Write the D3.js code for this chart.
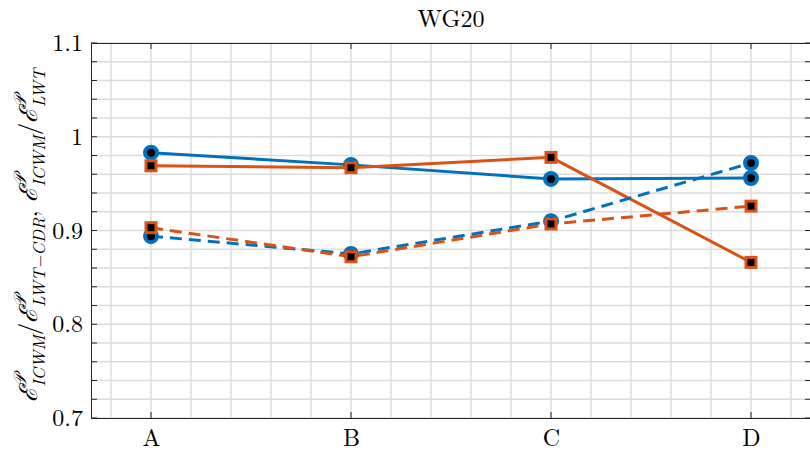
<!DOCTYPE html>
<html>
<head>
<meta charset="utf-8">
<script src="https://cdn.jsdelivr.net/npm/d3@7"></script>
<style>
  body { margin: 0; background: #fff; }
</style>
</head>
<body>
<div id="chart"></div>
<script>
// chart data
const categories = ['A', 'B', 'C', 'D']
const blueSolid = [0.983, 0.970, 0.955, 0.956]
const orangeSolid = [0.969, 0.967, 0.978, 0.866]
const blueDashed = [0.894, 0.875, 0.910, 0.972]
const orangeDashed = [0.903, 0.872, 0.907, 0.926]
const yTicks = [0.7, 0.8, 0.9, 1, 1.1]
const title = 'WG20'

const fontFam = "'Latin Modern Roman'"
const width = 810
const height = 453
const margin = { top: 43, right: -1, bottom: 35, left: 91 }
const w = width - margin.left - margin.right
const h = height - margin.top - margin.bottom

const blue = '#0072BD'
const orange = '#D95319'

const series = [
  { values: blueSolid, color: blue, marker: 'circle', dash: null },
  { values: orangeSolid, color: orange, marker: 'square', dash: null },
  { values: blueDashed, color: blue, marker: 'circle', dash: '12,7' },
  { values: orangeDashed, color: orange, marker: 'square', dash: '12,7' }
]

const svg = d3.select('#chart').append('svg')
  .attr('width', width).attr('height', height)

const g = svg.append('g')
  .attr('transform', 'translate(' + margin.left + ',' + margin.top + ')')

// categories sit at 1..4, with 0.3 of padding on each side
const x = d3.scaleLinear().domain([0.7, 4.3]).range([0, w])
const y = d3.scaleLinear().domain([0.7, 1.1]).range([h, 0])

// grid, major and minor look the same
const xGrid = d3.range(0.8, 4.3, 0.2)
const yGrid = d3.range(0.7, 1.1001, 0.02)
g.append('g').selectAll('line').data(xGrid).enter().append('line')
  .attr('x1', d => x(d)).attr('x2', d => x(d))
  .attr('y1', 0).attr('y2', h)
  .attr('stroke', '#dcdcdc').attr('stroke-width', 1.5)
g.append('g').selectAll('line').data(yGrid).enter().append('line')
  .attr('x1', 0).attr('x2', w)
  .attr('y1', d => y(d)).attr('y2', d => y(d))
  .attr('stroke', '#dcdcdc').attr('stroke-width', 1.5)

// axes: ticks point inwards, matlab style
const yAxis = d3.axisLeft(y).tickValues(yTicks).tickFormat(d3.format('')).tickSize(0).tickPadding(8)
g.append('g').attr('class', 'axis y').call(yAxis)
  .call(a => a.select('.domain').remove())
  .call(a => a.selectAll('.tick text').attr('font-size', 24).style('font-family', fontFam).attr('fill', '#000'))

const xAxis = d3.axisBottom(x).tickValues([1, 2, 3, 4]).tickFormat((d, i) => categories[i]).tickSize(0).tickPadding(11)
g.append('g').attr('class', 'axis x').attr('transform', 'translate(0,' + h + ')').call(xAxis)
  .call(a => a.select('.domain').remove())
  .call(a => a.selectAll('.tick text').attr('font-size', 24).style('font-family', fontFam).attr('fill', '#000'))

const frame = g.append('g').attr('stroke', '#262626').attr('stroke-width', 1)
frame.append('line').attr('x1', 0).attr('x2', w).attr('y1', 0.5).attr('y2', 0.5)
frame.append('line').attr('x1', 0).attr('x2', w).attr('y1', h + 0.5).attr('y2', h + 0.5)
frame.append('line').attr('x1', 0.5).attr('x2', 0.5).attr('y1', 0).attr('y2', h + 1)
frame.append('line').attr('x1', w - 0.5).attr('x2', w - 0.5).attr('y1', 0).attr('y2', h + 1)
frame.selectAll('.yt').data(yGrid).enter().append('line')
  .attr('x1', 0).attr('x2', 6)
  .attr('y1', d => y(d)).attr('y2', d => y(d))
frame.selectAll('.yt2').data(yGrid).enter().append('line')
  .attr('x1', w - 6).attr('x2', w)
  .attr('y1', d => y(d)).attr('y2', d => y(d))
frame.selectAll('.xt').data([1, 2, 3, 4]).enter().append('line')
  .attr('x1', d => x(d)).attr('x2', d => x(d))
  .attr('y1', h).attr('y2', h - 6)
frame.selectAll('.xt2').data([1, 2, 3, 4]).enter().append('line')
  .attr('x1', d => x(d)).attr('x2', d => x(d))
  .attr('y1', 0).attr('y2', 6)

// lines and markers
const line = d3.line()
  .x((d, i) => x(i + 1))
  .y(d => y(d))

series.forEach(s => {
  const sg = g.append('g')
  sg.append('path')
    .attr('d', line(s.values))
    .attr('fill', 'none')
    .attr('stroke', s.color)
    .attr('stroke-width', 3)
    .attr('stroke-dasharray', s.dash)
  if (s.marker === 'circle') {
    sg.selectAll('circle').data(s.values).enter().append('circle')
      .attr('cx', (d, i) => x(i + 1))
      .attr('cy', d => y(d))
      .attr('r', 6)
      .attr('fill', '#000')
      .attr('stroke', s.color)
      .attr('stroke-width', 4)
  } else {
    sg.selectAll('rect').data(s.values).enter().append('rect')
      .attr('x', (d, i) => x(i + 1) - 5)
      .attr('y', d => y(d) - 5)
      .attr('width', 10)
      .attr('height', 10)
      .attr('fill', '#000')
      .attr('stroke', s.color)
      .attr('stroke-width', 3)
  }
})

// title
svg.append('text')
  .attr('x', margin.left + w / 2)
  .attr('y', 27)
  .attr('text-anchor', 'middle')
  .attr('font-size', 24)
  .style('font-family', fontFam)
  .text(title)

// y label: E^P_ICWM / E^P_LWT-CDR, E^P_ICWM / E^P_LWT
const yLabel = svg.append('text')
  .attr('text-anchor', 'middle')
  .attr('font-size', 26)
  .style('font-family', fontFam)

const parts = ['ICWM', 'LWT\u2212CDR', 'ICWM', 'LWT']
const seps = ['/', ', ', '/', '']
parts.forEach((p, i) => {
  yLabel.append('tspan').attr('font-style', 'italic').text('\u2130')
  yLabel.append('tspan').attr('font-size', 18).attr('dy', -11).attr('font-style', 'italic').text('\uD835\uDCAB')
  yLabel.append('tspan').attr('font-size', 18).attr('dy', 19).attr('dx', -12).attr('font-style', 'italic').text(p)
  yLabel.append('tspan').attr('dy', -8).text(seps[i])
})
// stretch the label to the length it has in the reference
const labelLen = yLabel.node().getComputedTextLength()
const k = 383 / labelLen
yLabel.attr('transform', 'translate(37,' + (margin.top + h / 2 + 5) + ') rotate(-90) scale(' + k + ')')
</script>
</body>
</html>
